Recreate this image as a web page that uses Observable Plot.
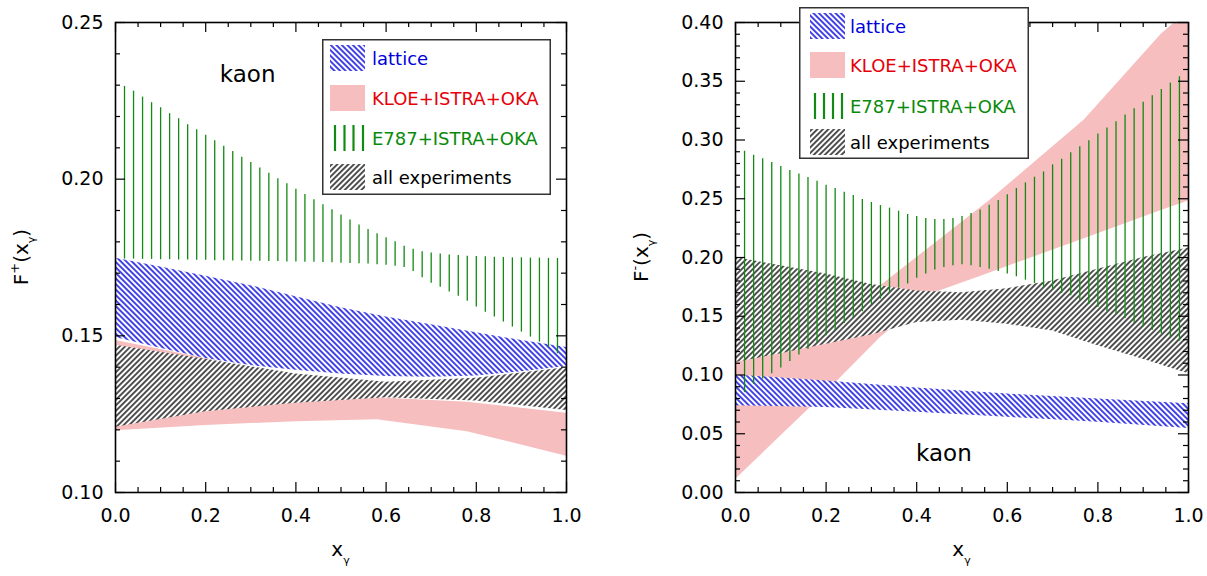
<!DOCTYPE html>
<html><head><meta charset="utf-8">
<script src="https://cdn.jsdelivr.net/npm/d3@7"></script>
<script src="https://cdn.jsdelivr.net/npm/@observablehq/plot@0.6"></script>
<style>
body{margin:0;background:#fff;}
#wrap{position:relative;width:1207px;height:576px;font-family:"DejaVu Sans",sans-serif;}
.panel{position:absolute;top:0;}
.legend{position:absolute;}
</style></head><body>
<svg width="0" height="0" style="position:absolute">
<defs>
<pattern id="hatchBlue" patternUnits="userSpaceOnUse" width="3.9" height="10" patternTransform="rotate(-45)">
 <rect width="3.9" height="10" fill="white"/>
 <line x1="1.95" y1="0" x2="1.95" y2="10" stroke="#0000dd" stroke-width="1.45"/>
</pattern>
<pattern id="hatchBlack" patternUnits="userSpaceOnUse" width="3.9" height="10" patternTransform="rotate(45)">
 <rect width="3.9" height="10" fill="white"/>
 <line x1="1.95" y1="0" x2="1.95" y2="10" stroke="#111" stroke-width="1.45"/>
</pattern>
</defs></svg>
<div id="wrap">
 <div id="left" class="panel" style="left:0"></div>
 <div id="right" class="panel" style="left:600px"></div>
</div>
<script>
// ---------- legend / series ----------
const seriesNames  = ["lattice", "KLOE+ISTRA+OKA", "E787+ISTRA+OKA", "all experiments"];
const seriesColors = ["#0000dd", "#e6000a", "#0a8a0a", "#000000"];
const pinkFill = "#f6bebe";
const greenLine = "#138a13";

// ---------- ticks ----------
const xTicks = [0, 0.2, 0.4, 0.6, 0.8, 1.0];
const xMinor = [0.05,0.1,0.15,0.25,0.3,0.35,0.45,0.5,0.55,0.65,0.7,0.75,0.85,0.9,0.95];
const yTicksPlus = [0.10, 0.15, 0.20, 0.25];
const yMinorPlus = [0.11,0.12,0.13,0.14,0.16,0.17,0.18,0.19,0.21,0.22,0.23,0.24];
const yTicksMinus = [0.00, 0.05, 0.10, 0.15, 0.20, 0.25, 0.30, 0.35, 0.40];
const yMinorMinus = [0.01,0.02,0.03,0.04,0.06,0.07,0.08,0.09,0.11,0.12,0.13,0.14,0.16,0.17,0.18,0.19,
                     0.21,0.22,0.23,0.24,0.26,0.27,0.28,0.29,0.31,0.32,0.33,0.34,0.36,0.37,0.38,0.39];

// ---------- green (E787+ISTRA+OKA) vertical bars: shared x positions ----------
const greenX = [0.02,0.04,0.06,0.08,0.10,0.12,0.14,0.16,0.18,0.20,0.22,0.24,0.26,0.28,0.30,0.32,0.34,0.36,0.38,0.40,
                0.42,0.44,0.46,0.48,0.50,0.52,0.54,0.56,0.58,0.60,0.62,0.64,0.66,0.68,0.70,0.72,0.74,0.76,0.78,0.80,
                0.82,0.84,0.86,0.88,0.90,0.92,0.94,0.96,0.98];

// ---------- F+ panel ----------
const plusGreenHi = [0.2296,0.2281,0.2262,0.2244,0.2228,0.2209,0.2193,0.2174,0.2158,0.2140,
                     0.2123,0.2105,0.2088,0.2070,0.2053,0.2036,0.2019,0.2001,0.1985,0.1968,
                     0.1951,0.1934,0.1918,0.1902,0.1886,0.1870,0.1854,0.1839,0.1826,0.1813,
                     0.1800,0.1786,0.1776,0.1768,0.1764,0.1761,0.1758,0.1756,0.1754,0.1753,
                     0.1752,0.1751,0.1750,0.1749,0.1749,0.1748,0.1748,0.1747,0.1747];
const plusGreenLo = [0.1745,0.1745,0.1744,0.1744,0.1743,0.1743,0.1742,0.1742,0.1741,0.1741,
                     0.1740,0.1740,0.1739,0.1739,0.1738,0.1738,0.1737,0.1737,0.1736,0.1736,
                     0.1735,0.1735,0.1734,0.1733,0.1732,0.1731,0.1730,0.1729,0.1727,0.1725,
                     0.1722,0.1718,0.1705,0.1685,0.1668,0.1655,0.1640,0.1626,0.1610,0.1592,
                     0.1575,0.1560,0.1544,0.1528,0.1512,0.1496,0.1480,0.1464,0.1443];

const plusLatticeX  = [0, 0.1, 0.2, 0.3, 0.4, 0.5, 0.6, 0.7, 0.8, 0.9, 1.0];
const plusLatticeHi = [0.1748,0.1720,0.1690,0.1660,0.1625,0.1590,0.1560,0.1535,0.1510,0.1485,0.1463];
const plusLatticeLo = [0.1495,0.1460,0.1428,0.1405,0.1390,0.1378,0.1370,0.1368,0.1372,0.1385,0.1402];

const plusAllX  = [0, 0.2, 0.4, 0.6, 0.8, 1.0];
const plusAllHi = [0.1470,0.1425,0.1378,0.1352,0.1365,0.1398];
const plusAllLo = [0.1208,0.1258,0.1285,0.1302,0.1292,0.1262];

const plusKloeX  = [0, 0.2, 0.4, 0.58, 0.78, 1.0];
const plusKloeHi = [0.1485,0.1428,0.1350,0.1302,0.1288,0.1253];
const plusKloeLo = [0.1197,0.1214,0.1226,0.1232,0.1194,0.1116];

// ---------- F- panel ----------
const minusGreenHi = [0.2904,0.2870,0.2841,0.2808,0.2774,0.2740,0.2711,0.2680,0.2649,0.2615,
                      0.2587,0.2556,0.2527,0.2493,0.2468,0.2442,0.2420,0.2394,0.2366,0.2349,
                      0.2332,0.2324,0.2324,0.2332,0.2349,0.2374,0.2405,0.2445,0.2485,0.2533,
                      0.2587,0.2635,0.2683,0.2728,0.2788,0.2836,0.2892,0.2943,0.2994,0.3051,
                      0.3102,0.3156,0.3212,0.3266,0.3322,0.3376,0.3430,0.3484,0.3538];
const minusGreenLo = [0.0850,0.0920,0.0965,0.1010,0.1060,0.1115,0.1170,0.1220,0.1277,0.1334,
                      0.1376,0.1438,0.1489,0.1538,0.1597,0.1646,0.1695,0.1740,0.1775,0.1824,
                      0.1859,0.1893,0.1915,0.1929,0.1938,0.1929,0.1915,0.1901,0.1881,0.1859,
                      0.1836,0.1807,0.1779,0.1750,0.1722,0.1694,0.1674,0.1637,0.1603,0.1574,
                      0.1540,0.1510,0.1480,0.1440,0.1410,0.1380,0.1350,0.1320,0.1290];

const minusLatticeX  = [0, 0.2, 0.4, 0.6, 0.8, 1.0];
const minusLatticeHi = [0.0999,0.0950,0.0889,0.0838,0.0795,0.0755];
const minusLatticeLo = [0.0739,0.0724,0.0682,0.0640,0.0597,0.0545];

const minusAllX  = [0, 0.1, 0.2, 0.3, 0.4, 0.5, 0.6, 0.7, 0.8, 0.9, 1.0];
const minusAllHi = [0.200,0.193,0.186,0.177,0.1715,0.170,0.1735,0.180,0.190,0.200,0.208];
const minusAllLo = [0.1106,0.118,0.1262,0.134,0.1446,0.1466,0.1432,0.1375,0.125,0.1135,0.101];

const minusKloeX  = [0, 0.17, 0.22, 0.32, 0.44, 0.56, 0.77, 0.94, 1.0];
const minusKloeHi = [0.120,0.145,0.152,0.1757,0.212,0.248,0.317,0.390,0.410];
const minusKloeLo = [0.011,0.074,0.093,0.132,0.170,0.1867,0.216,0.240,0.248];

const annotPlus  = [{x: 0.293, y: 0.2335, label: "kaon"}];
const annotMinus = [{x: 0.46,  y: 0.033,  label: "kaon"}];

// ---------- helpers ----------
const band = (X, LO, HI) => X.map((x, i) => ({x, lo: LO[i], hi: HI[i]}));

function panel(o) {
  const H = 576, mt = 22, mb = 84;
  const innerH = H - mt - mb, innerW = o.width - o.ml - o.mr;
  const major = 10, minor = 5;
  const tickStyle = {stroke: "black", strokeWidth: 1.2};
  const svg = Plot.plot({
    width: o.width, height: H,
    marginLeft: o.ml, marginRight: o.mr, marginTop: mt, marginBottom: mb,
    x: {domain: [0, 1]},
    y: {domain: o.yDomain},
    style: {fontFamily: "DejaVu Sans, sans-serif", fontSize: "19px", color: "black", background: "white"},
    marks: [
      Plot.areaY(o.kloe, {x: "x", y1: "lo", y2: "hi", fill: pinkFill, clip: true}),
      Plot.areaY(o.all, {x: "x", y1: "lo", y2: "hi", fill: "url(#hatchBlack)", clip: true}),
      Plot.areaY(o.lattice, {x: "x", y1: "lo", y2: "hi", fill: "url(#hatchBlue)", clip: true}),
      Plot.ruleX(o.green, {x: "x", y1: "lo", y2: "hi", stroke: greenLine, strokeWidth: 1.3, clip: true}),
      Plot.text(o.annot, {x: "x", y: "y", text: "label", fontSize: 23, fill: "black"}),
      // inward ticks on all four sides
      Plot.tickX(o.xTicks, {x: d => d, insetTop: innerH - major, ...tickStyle}),
      Plot.tickX(o.xTicks, {x: d => d, insetBottom: innerH - major, ...tickStyle}),
      Plot.tickX(o.xMinor, {x: d => d, insetTop: innerH - minor, ...tickStyle}),
      Plot.tickX(o.xMinor, {x: d => d, insetBottom: innerH - minor, ...tickStyle}),
      Plot.tickY(o.yTicks, {y: d => d, insetRight: innerW - major, ...tickStyle}),
      Plot.tickY(o.yTicks, {y: d => d, insetLeft: innerW - major, ...tickStyle}),
      Plot.tickY(o.yMinor, {y: d => d, insetRight: innerW - minor, ...tickStyle}),
      Plot.tickY(o.yMinor, {y: d => d, insetLeft: innerW - minor, ...tickStyle}),
      Plot.frame({stroke: "black", strokeWidth: 1.6}),
      Plot.axisX({ticks: o.xTicks, tickSize: 0, tickPadding: 16, tickFormat: d3.format(".1f"), label: null, fontSize: 19}),
      Plot.axisY({ticks: o.yTicks, tickSize: 0, tickPadding: 12, tickFormat: d3.format(".2f"), label: null, fontSize: 19})
    ]
  });
  const s = d3.select(svg);
  const cx = o.ml + innerW / 2;
  const xl = s.append("text").attr("x", cx).attr("y", 556).attr("text-anchor", "middle")
    .attr("font-size", 20).attr("font-family", "DejaVu Sans").attr("fill", "black");
  xl.append("tspan").text("x");
  xl.append("tspan").attr("dy", 8).attr("font-size", 11).text("γ");
  const yl = s.append("text").attr("transform", `translate(${o.ylx},${mt + innerH / 2}) rotate(-90)`)
    .attr("text-anchor", "middle").attr("font-size", 20).attr("font-family", "DejaVu Sans").attr("fill", "black");
  yl.append("tspan").text("F");
  yl.append("tspan").attr("dy", -9).attr("font-size", 13).text(o.sup);
  yl.append("tspan").attr("dy", 9).text("(x");
  yl.append("tspan").attr("dy", 7).attr("font-size", 11).text("γ");
  yl.append("tspan").attr("dy", -7).text(")");
  return svg;
}

function legend(left, top, w, h, rowsY, swX, txtX, greenXs) {
  const svg = d3.create("svg").attr("class", "legend").attr("width", w).attr("height", h)
    .style("left", left + "px").style("top", top + "px");
  svg.append("rect").attr("x", 0.75).attr("y", 0.75).attr("width", w - 1.5).attr("height", h - 1.5)
    .attr("fill", "white").attr("stroke", "#333").attr("stroke-width", 1.5);
  const sw = 35, sh = 26;
  seriesNames.forEach((name, i) => {
    const cy = rowsY[i];
    if (i === 0) svg.append("rect").attr("x", swX).attr("y", cy - sh / 2).attr("width", sw).attr("height", sh).attr("fill", "url(#hatchBlue)");
    if (i === 1) svg.append("rect").attr("x", swX).attr("y", cy - sh / 2).attr("width", sw).attr("height", sh).attr("fill", pinkFill);
    if (i === 2) greenXs.forEach(gx => svg.append("line").attr("x1", gx).attr("x2", gx).attr("y1", cy - 13).attr("y2", cy + 13)
        .attr("stroke", greenLine).attr("stroke-width", 2.2));
    if (i === 3) svg.append("rect").attr("x", swX).attr("y", cy - sh / 2).attr("width", sw).attr("height", sh).attr("fill", "url(#hatchBlack)");
    svg.append("text").attr("x", txtX).attr("y", cy + 7).attr("font-size", 18).attr("font-family", "DejaVu Sans")
      .attr("fill", seriesColors[i]).text(name);
  });
  return svg.node();
}

const leftSvg = panel({
  width: 600, ml: 115, mr: 34, yDomain: [0.10, 0.25],
  xTicks, xMinor, yTicks: yTicksPlus, yMinor: yMinorPlus,
  kloe: band(plusKloeX, plusKloeLo, plusKloeHi),
  all: band(plusAllX, plusAllLo, plusAllHi),
  lattice: band(plusLatticeX, plusLatticeLo, plusLatticeHi),
  green: band(greenX, plusGreenLo, plusGreenHi),
  annot: annotPlus, ylx: 28, sup: "+"
});
const rightSvg = panel({
  width: 607, ml: 135, mr: 19, yDomain: [0, 0.40],
  xTicks, xMinor, yTicks: yTicksMinus, yMinor: yMinorMinus,
  kloe: band(minusKloeX, minusKloeLo, minusKloeHi),
  all: band(minusAllX, minusAllLo, minusAllHi),
  lattice: band(minusLatticeX, minusLatticeLo, minusLatticeHi),
  green: band(greenX, minusGreenLo, minusGreenHi),
  annot: annotMinus, ylx: 48, sup: "-"
});
document.getElementById("left").appendChild(leftSvg);
document.getElementById("right").appendChild(rightSvg);

const wrap = document.getElementById("wrap");
wrap.appendChild(legend(322, 39, 229, 156, [19, 59, 99, 138], 8, 50, [13, 22.5, 31.5, 41]));
wrap.appendChild(legend(799, 7, 230, 152, [19, 58, 99, 135], 11, 51, [16, 25, 34, 43]));
</script>
</body></html>
